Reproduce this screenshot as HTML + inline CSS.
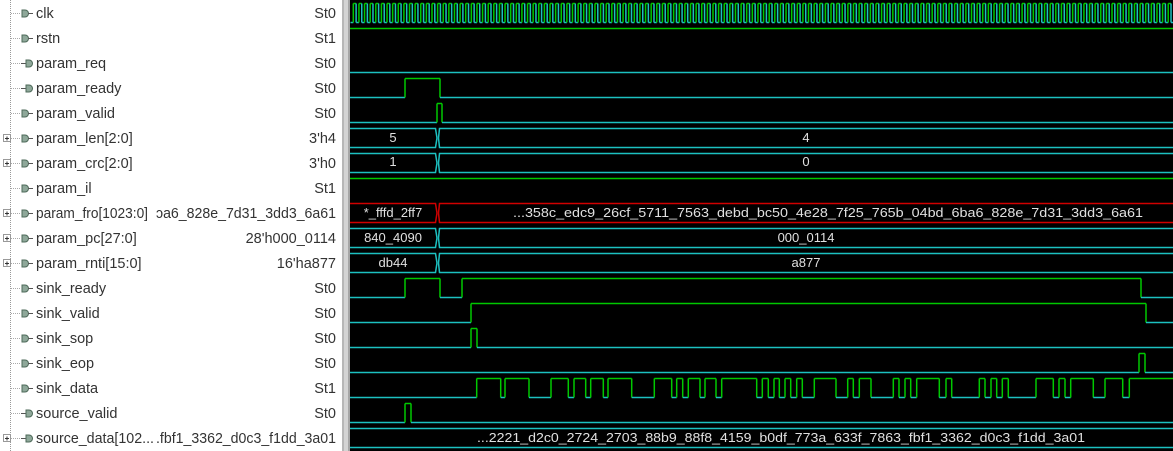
<!DOCTYPE html>
<html><head><meta charset="utf-8"><style>
html,body{margin:0;padding:0;width:1173px;height:451px;overflow:hidden;background:#fff}
svg{display:block}
.n{font-family:"Liberation Sans",sans-serif;font-size:14.5px;fill:#333}
.v{font-family:"Liberation Sans",sans-serif;font-size:14.5px;fill:#333;text-anchor:end}
.b{font-family:"Liberation Sans",sans-serif;font-size:13px;fill:#e0e0e0;text-anchor:middle}
</style></head><body>
<svg id="s" width="1173" height="451" xmlns="http://www.w3.org/2000/svg">
<rect x="0" y="0" width="342" height="451" fill="#fff"/>
<rect x="342" y="0" width="8" height="451" fill="#d4d4d4"/>
<line x1="343" y1="0" x2="343" y2="451" stroke="#9a9a9a"/>
<line x1="349" y1="0" x2="349" y2="451" stroke="#777"/>
<rect x="350" y="0" width="823" height="451" fill="#000"/>
<line x1="10.5" y1="0" x2="10.5" y2="451" stroke="#999" stroke-dasharray="1,1"/>
<g id="icons"></g>
<g id="w" fill="none" stroke-width="1.5"></g>
<text class="n" x="36" y="18">clk</text>
<text class="n" x="36" y="43">rstn</text>
<text class="n" x="36" y="68">param_req</text>
<text class="n" x="36" y="93">param_ready</text>
<text class="n" x="36" y="118">param_valid</text>
<text class="n" x="36" y="143">param_len[2:0]</text>
<text class="n" x="36" y="168">param_crc[2:0]</text>
<text class="n" x="36" y="193">param_il</text>
<text class="n" x="36" y="218" textLength="112" lengthAdjust="spacingAndGlyphs">param_fro[1023:0]</text>
<text class="n" x="36" y="243">param_pc[27:0]</text>
<text class="n" x="36" y="268">param_rnti[15:0]</text>
<text class="n" x="36" y="293">sink_ready</text>
<text class="n" x="36" y="318">sink_valid</text>
<text class="n" x="36" y="343">sink_sop</text>
<text class="n" x="36" y="368">sink_eop</text>
<text class="n" x="36" y="393">sink_data</text>
<text class="n" x="36" y="418">source_valid</text>
<text class="n" x="36" y="443" textLength="118" lengthAdjust="spacingAndGlyphs">source_data[102...</text>
<text class="v" x="336" y="18">St0</text>
<text class="v" x="336" y="43">St1</text>
<text class="v" x="336" y="68">St0</text>
<text class="v" x="336" y="93">St0</text>
<text class="v" x="336" y="118">St0</text>
<text class="v" x="336" y="143">3'h4</text>
<text class="v" x="336" y="168">3'h0</text>
<text class="v" x="336" y="193">St1</text>
<text class="v" x="336" y="218" textLength="180" lengthAdjust="spacingAndGlyphs">ↄa6_828e_7d31_3dd3_6a61</text>
<text class="v" x="336" y="243">28'h000_0114</text>
<text class="v" x="336" y="268">16'ha877</text>
<text class="v" x="336" y="293">St0</text>
<text class="v" x="336" y="318">St0</text>
<text class="v" x="336" y="343">St0</text>
<text class="v" x="336" y="368">St0</text>
<text class="v" x="336" y="393">St1</text>
<text class="v" x="336" y="418">St0</text>
<text class="v" x="336" y="443" textLength="180" lengthAdjust="spacingAndGlyphs">.fbf1_3362_d0c3_f1dd_3a01</text>
<text class="b" x="393" y="142">5</text>
<text class="b" x="806" y="142">4</text>
<text class="b" x="393" y="166">1</text>
<text class="b" x="806" y="166">0</text>
<text class="b" x="393" y="217">*_fffd_2ff7</text>
<text class="b" x="828" y="217" textLength="630" lengthAdjust="spacingAndGlyphs">...358c_edc9_26cf_5711_7563_debd_bc50_4e28_7f25_765b_04bd_6ba6_828e_7d31_3dd3_6a61</text>
<text class="b" x="393" y="242">840_4090</text>
<text class="b" x="806" y="242">000_0114</text>
<text class="b" x="393" y="267">db44</text>
<text class="b" x="806" y="267">a877</text>
<text class="b" x="781" y="442" textLength="608" lengthAdjust="spacingAndGlyphs">...2221_d2c0_2724_2703_88b9_88f8_4159_b0df_773a_633f_7863_fbf1_3362_d0c3_f1dd_3a01</text>
</svg>
<script>
(function(){
var NS="http://www.w3.org/2000/svg",w=document.getElementById("w"),ic=document.getElementById("icons");
var G="#00c800",C="#1cc0c0",R="#d00000";
function ln(x1,y1,x2,y2,c){var e=document.createElementNS(NS,"line");e.setAttribute("x1",x1);e.setAttribute("y1",y1);e.setAttribute("x2",x2);e.setAttribute("y2",y2);e.setAttribute("stroke",c);w.appendChild(e);}
function pl(pts,c){var e=document.createElementNS(NS,"polyline");e.setAttribute("points",pts);e.setAttribute("stroke",c);w.appendChild(e);}
function dig(i,edges,startHigh){var t=25*i,hi=t+3.5,lo=t+22.5;var lvl=startHigh?1:0,x=350;
 var all=edges.concat([1173]);
 for(var k=0;k<all.length;k++){var nx=all[k];ln(x,lvl?hi:lo,nx,lvl?hi:lo,lvl?G:C);
  if(k<edges.length){ln(nx,hi,nx,lo,G);lvl=1-lvl;}x=nx;}}
function bus(i,xs,c){var t=25*i,a=t+3.5,b=t+22.5,m=t+13;var segs=[350].concat(xs);
 for(var k=0;k<segs.length;k++){var s=segs[k],e=(k+1<segs.length)?segs[k+1]:1173;
  var sx=k?s+2:s,ex=(k+1<segs.length)?e-2:e;
  pl((k?(s+1)+","+m+" ":"")+sx+","+a+" "+ex+","+a+((k+1<segs.length)?" "+(e-0.5)+","+m:""),c);
  pl((k?(s+1)+","+m+" ":"")+sx+","+b+" "+ex+","+b+((k+1<segs.length)?" "+(e-0.5)+","+m:""),c);}}
var x=350.5,per=5.62,h=false;
while(x<1173){var nx=Math.min(x+per/2,1173);ln(x,h?3.5:22.5,nx,h?3.5:22.5,h?G:C);if(nx<1173)ln(nx,3.5,nx,22.5,h?C:G);h=!h;x=nx;}
dig(1,[],1);
dig(2,[]);
dig(3,[405,440]);
dig(4,[437,442]);
bus(5,[437.5],C);
bus(6,[437.5],C);
dig(7,[],1);
bus(8,[437.5],R);
bus(9,[437.5],C);
bus(10,[437.5],C);
dig(11,[405,440,462,1141]);
dig(12,[471,1146]);
dig(13,[471,477]);
dig(14,[1139,1145]);
dig(15,[476.7,500.7,505,529,551,568.3,574,585.7,590.7,603.3,608,631.7,654.3,671.7,676.7,682.7,688.3,700,705,716,721.7,756.7,762.3,768.3,774,779.3,785,790.7,796.7,802.3,814.3,836,847.7,853.3,859.3,871,893.3,899,905,910.7,916.7,939.3,946,951.7,979.3,985,991,996.7,1002.3,1008.3,1036,1053.3,1059,1065,1070.7,1093.3,1105,1122.7,1129.3]);
dig(16,[405,411]);
bus(17,[],C);
var outs={2:1,3:1,16:1,17:1},buses={5:1,6:1,8:1,9:1,10:1,17:1};
for(var i=0;i<18;i++){var cy=25*i+13;
 function el(n,a){var e=document.createElementNS(NS,n);for(var k in a)e.setAttribute(k,a[k]);ic.appendChild(e);}
 el("line",{x1:11,y1:cy+0.5,x2:20,y2:cy+0.5,stroke:"#aaa","stroke-dasharray":"1,1"});
 if(buses[i]){el("rect",{x:3.5,y:cy-3.5,width:7,height:7,fill:"#fff",stroke:"#999"});el("line",{x1:5,y1:cy+0.5,x2:9,y2:cy+0.5,stroke:"#333"});el("line",{x1:7,y1:cy-1.5,x2:7,y2:cy+2.5,stroke:"#333"});}
 if(outs[i]){el("line",{x1:21,y1:cy+0.5,x2:26,y2:cy+0.5,stroke:"#555"});el("path",{d:"M26 "+(cy-3)+"h3a3.5 3.5 0 0 1 0 7h-3z",fill:"#8fa89a",stroke:"#4e6a5a"});}
 else{el("path",{d:"M22 "+(cy-3)+"h3a3.5 3.5 0 0 1 0 7h-3z",fill:"#8fa89a",stroke:"#4e6a5a"});el("line",{x1:28,y1:cy+0.5,x2:33,y2:cy+0.5,stroke:"#555"});}
}
})();
</script>
</body></html>
